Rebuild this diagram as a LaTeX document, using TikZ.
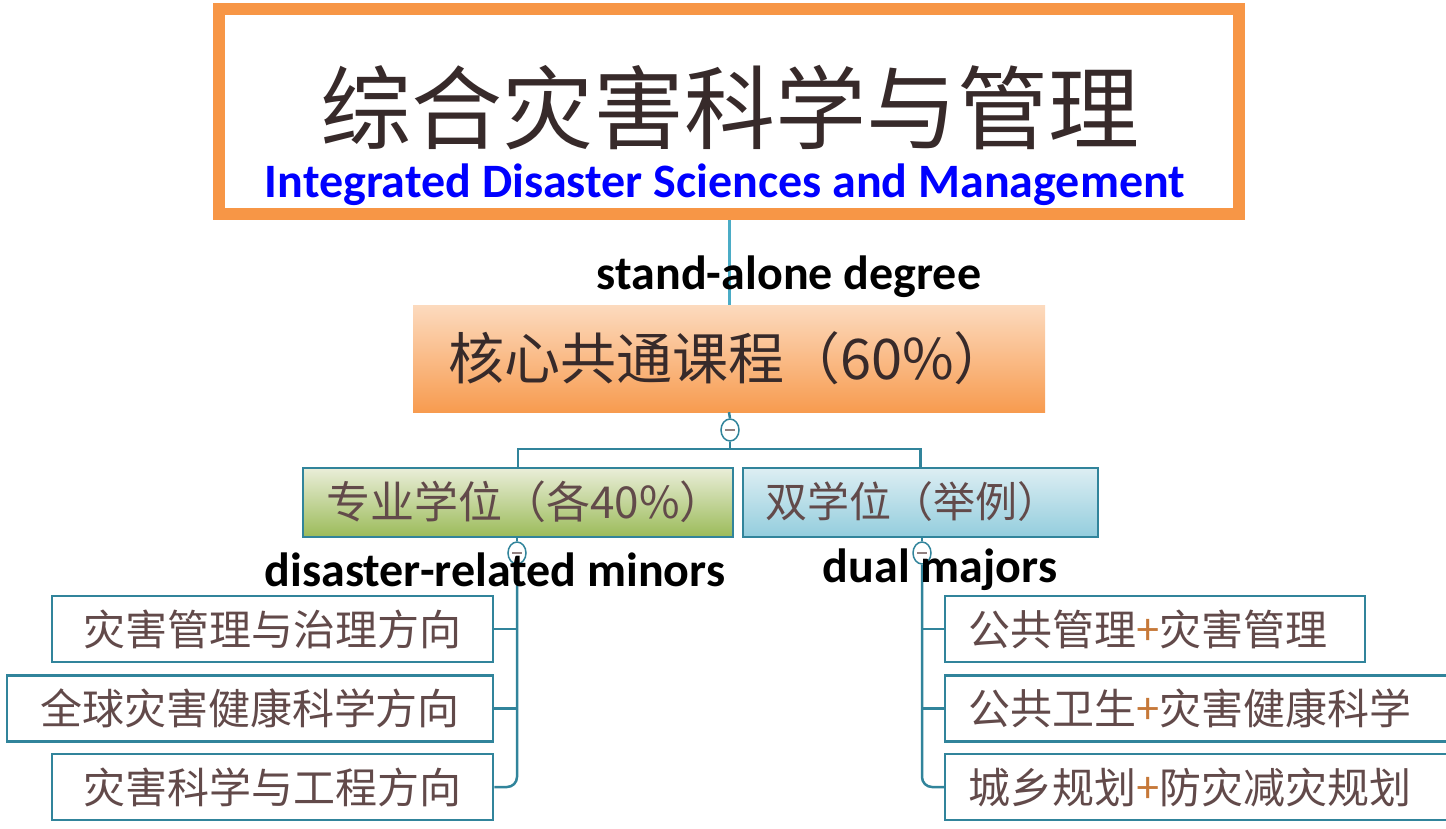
\documentclass[tikz,border=0pt]{standalone}
\usepackage{fontspec}
\setmainfont{Carlito}
\newfontfamily\cjk{Noto Sans CJK SC}
\usetikzlibrary{shapes.geometric}
\definecolor{orng}{RGB}{247,150,70}
\definecolor{teal1}{RGB}{49,132,155}
\definecolor{lteal}{RGB}{75,172,198}
\definecolor{brn}{RGB}{98,74,74}
\definecolor{dark}{RGB}{55,42,42}
\begin{document}
\begin{tikzpicture}[x=1pt,y=-1pt,
  conn/.style={draw=teal1,line width=2.5pt},
  leaf/.style={draw=teal1,line width=2.5pt,fill=white,minimum height=66pt,inner sep=0pt,
    font=\cjk\fontsize{42}{46}\selectfont,text=brn},
  mid/.style={draw=teal1,line width=2.5pt,minimum height=69pt,inner sep=0pt,
    font=\cjk\fontsize{42}{46}\selectfont,text=brn},
  tog/.style={ellipse,draw=teal1,line width=1.5pt,fill=white,minimum width=18pt,minimum height=22pt,inner sep=0pt},
  lbl/.style={font=\bfseries\fontsize{48}{52}\selectfont,text=black,inner sep=0pt}]
\useasboundingbox (0,0) rectangle (1446,829);
% title
\node[draw=orng,line width=12pt,fill=white,minimum width=1020pt,minimum height=205pt,inner sep=0pt] (title) at (729,111.5) {};
\node[font=\cjk\fontsize{91}{95}\selectfont,text=dark,inner sep=0pt] (titlecn) at (730,108) {综合灾害科学与管理};
\node[font=\bfseries\fontsize{48}{52}\selectfont,text=blue,inner sep=0pt] (titleen) at (725,185) {Integrated Disaster Sciences and Management};
% core
\node[top color=orng!35,bottom color=orng!95,minimum width=632pt,minimum height=107pt,inner sep=0pt] (core) at (729,358.5) {};
\node[font=\cjk\fontsize{56}{60}\selectfont,text=dark,inner sep=0pt] (coretxt) at (729,358) {核心共通课程（60\%）};
\draw[line width=3pt,draw=lteal] (title.south) -- (core.north);
\node[lbl] (sa) at (789,277) {stand-alone degree};
% second level
\node[mid,top color=green!10!olive!15!white,bottom color={rgb,255:red,155;green,187;blue,89},minimum width=430pt] (green) at (518,502.5) {};
\node[text=brn,font=\cjk\fontsize{44}{48}\selectfont,inner sep=0pt] (greentxt) at (525,502) {专业学位（各40\%）};
\node[mid,top color={rgb,255:red,221;green,238;blue,243},bottom color={rgb,255:red,147;green,205;blue,221},minimum width=355pt] (blu) at (920.5,502.5) {};
\node[text=brn,font=\cjk\fontsize{42}{46}\selectfont,inner sep=0pt] (blutxt) at (912,502) {双学位（举例）};
\node[tog] (t0) at (730,430) {};
\draw[conn] (t0.south) -- (730,449) -| (green.north);
\draw[conn] (730,449) -| (blu.north);
\draw[conn] (core.south) -- (t0.north);
\draw[brn!70,line width=2pt] ([xshift=-5pt]t0.center) -- ([xshift=5pt]t0.center);
% leaves left
\node[leaf,minimum width=441pt] (L1) at (272.5,629) {灾害管理与治理方向};
\node[leaf,minimum width=486pt] (L2) at (250,708.5) {全球灾害健康科学方向};
\node[leaf,minimum width=441pt] (L3) at (272.5,787) {灾害科学与工程方向};
% leaves right
\node[leaf,minimum width=420pt,align=left,text width=400pt] (R1) at (1155,629) {\hspace*{13pt}公共管理{\color{orng!80!black}+}灾害管理};
\node[leaf,minimum width=510pt,align=left,text width=490pt] (R2) at (1200,708.5) {\hspace*{13pt}公共卫生{\color{orng!80!black}+}灾害健康科学};
\node[leaf,minimum width=510pt,align=left,text width=490pt] (R3) at (1200,787) {\hspace*{13pt}城乡规划{\color{orng!80!black}+}防灾减灾规划};
% left tree
\node[tog] (t1) at (517,553) {};
\draw[conn] (green.south -| t1) -- (t1.north);
\draw[conn,rounded corners=10pt] (t1.south) |- (L3.east);
\draw[conn] (L1.east) -- (L1.east -| t1);
\draw[conn] (L2.east) -- (L2.east -| t1);
\draw[brn!70,line width=2pt] ([xshift=-5pt]t1.center) -- ([xshift=5pt]t1.center);
% right tree
\node[tog] (t2) at (922,553) {};
\draw[conn] (blu.south -| t2) -- (t2.north);
\draw[conn,rounded corners=10pt] (t2.south) |- (R3.west);
\draw[conn] (R1.west) -- (R1.west -| t2);
\draw[conn] (R2.west) -- (R2.west -| t2);
\draw[brn!70,line width=2pt] ([xshift=-5pt]t2.center) -- ([xshift=5pt]t2.center);
% labels
\node[lbl] (dm) at (495,570) {disaster-related minors};
\node[lbl] (dual) at (940,570) {dual majors};
\end{tikzpicture}
\end{document}
